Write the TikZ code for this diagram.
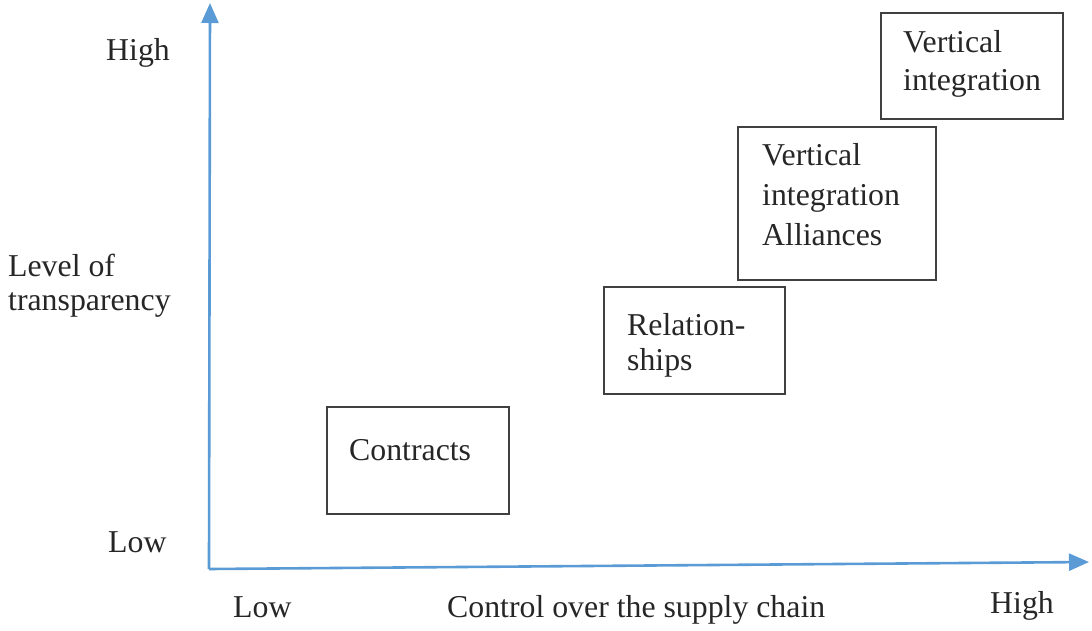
\documentclass[tikz,border=0pt]{standalone}
\usepackage{fontspec}
\setmainfont{Liberation Serif}
\usetikzlibrary{arrows.meta}
\definecolor{axisblue}{HTML}{5B9BD5}
\definecolor{boxgray}{HTML}{404040}
\begin{document}
\begin{tikzpicture}[x=1pt,y=-1pt,
  box/.style={draw=boxgray,line width=1.8pt,inner sep=0pt},
  lbl/.style={anchor=base west,inner sep=0pt,font=\fontsize{31.8}{38}\selectfont,text=black!85},
  axis/.style={draw=axisblue,line width=2.6pt,-{Triangle[length=20pt,width=17pt]}}]
\useasboundingbox (0,0) rectangle (1092,630);
% axes
\coordinate (origin) at (209,569);
\coordinate (ytip) at (210,3);
\coordinate (xtip) at (1089,562);
\draw[axis] (origin) -- (ytip);
\draw[axis] (origin) -- (xtip);
% boxes
\node[box,minimum width=182pt,minimum height=107pt] (contracts) at (418,460.5) {};
\node[box,minimum width=181pt,minimum height=107pt] (relations) at (694.5,340.5) {};
\node[box,minimum width=198pt,minimum height=153pt] (alliances) at (837,203.5) {};
\node[box,minimum width=182pt,minimum height=106pt] (vertical) at (972,66) {};
% box texts
\node[lbl] (tcontracts) at (349,460) {Contracts};
\node[lbl] (trel1) at (627,335) {Relation-};
\node[lbl] (trel2) at (627,370) {ships};
\node[lbl] (tall1) at (762,165) {Vertical};
\node[lbl] (tall2) at (762,205) {integration};
\node[lbl] (tall3) at (762,245) {Alliances};
\node[lbl] (tver1) at (903,52) {Vertical};
\node[lbl] (tver2) at (903,90) {integration};
% axis labels
\node[lbl] (yhigh) at (106,60) {High};
\node[lbl] (ylev1) at (8,276) {Level of};
\node[lbl] (ylev2) at (8,310) {transparency};
\node[lbl] (ylow) at (108,552) {Low};
\node[lbl] (xlow) at (233,617) {Low};
\node[lbl] (xname) at (447,617) {Control over the supply chain};
\node[lbl] (xhigh) at (990,613) {High};
\end{tikzpicture}
\end{document}
